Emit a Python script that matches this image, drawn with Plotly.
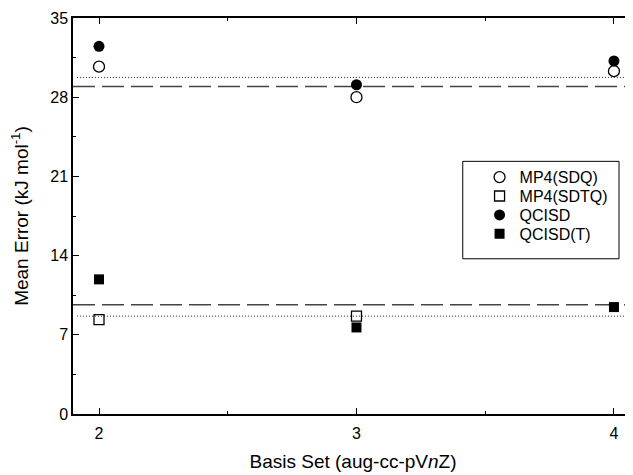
import plotly.graph_objects as go

basis = [2, 3, 4]
mp4_sdq = [30.7, 28.0, 30.3]
mp4_sdtq = [8.35, 8.65, None]
qcisd = [32.5, 29.1, 31.2]
qcisd_t = [11.9, 7.65, 9.45]

# reference levels (horizontal lines)
dashed_levels = [28.95, 9.65]
dotted_levels = [29.75, 8.65]

FONT = "Liberation Sans, Arial, sans-serif"

series = [
    ("MP4(SDQ)", mp4_sdq, dict(symbol="circle-open", size=11, color="black", line=dict(width=1.3))),
    ("MP4(SDTQ)", mp4_sdtq, dict(symbol="square-open", size=10, color="black", line=dict(width=1.3))),
    ("QCISD", qcisd, dict(symbol="circle", size=11, color="black")),
    ("QCISD(T)", qcisd_t, dict(symbol="square", size=10, color="black")),
]
legend_ids = ["legend", "legend2", "legend3", "legend4"]
legend_y = [0.598, 0.5503, 0.5025, 0.4548]

fig = go.Figure()
for (name, vals, mk), lid in zip(series, legend_ids):
    fig.add_trace(go.Scatter(x=basis, y=vals, mode="markers", name=name, marker=mk, legend=lid))

for lv in dashed_levels:
    fig.add_shape(type="line", xref="paper", x0=0, x1=1, yref="y", y0=lv, y1=lv,
                  line=dict(color="#444444", width=1.5, dash="22px,7px"), layer="below")
for lv in dotted_levels:
    fig.add_shape(type="line", xref="paper", x0=0.007, x1=1, yref="y", y0=lv, y1=lv,
                  line=dict(color="#222222", width=1, dash="1px,2px"), layer="below")

# legend frame
fig.add_shape(type="rect", xref="paper", yref="paper", x0=0.696, x1=0.975, y0=0.392, y1=0.638,
              line=dict(color="black", width=1), fillcolor="rgba(0,0,0,0)")

legend_layout = {}
for lid, ly in zip(legend_ids, legend_y):
    legend_layout[lid] = dict(x=0.726, y=ly, xanchor="left", yanchor="middle",
                              borderwidth=0, bgcolor="rgba(0,0,0,0)",
                              font=dict(family=FONT, size=16), itemwidth=30)

fig.update_layout(
    width=633, height=475,
    margin=dict(l=65, r=8, t=8, b=69),
    paper_bgcolor="white", plot_bgcolor="white",
    font=dict(family=FONT, size=16, color="black"),
    showlegend=True,
    **legend_layout,
    xaxis=dict(range=[1.899, 4.074], tickvals=basis, ticktext=[str(b) for b in basis],
               ticks="inside", ticklen=6, tickwidth=1.2, tickcolor="black",
               minor=dict(dtick=0.5, tick0=2, ticks="inside", ticklen=3, tickwidth=1.2, tickcolor="black"),
               showline=True, linecolor="black", linewidth=1.5, mirror="allticks",
               showgrid=False, zeroline=False, ticklabelstandoff=4,
               title=dict(text="Basis Set (aug-cc-pV<i>n</i>Z)", standoff=14,
                          font=dict(family=FONT, size=19))),
    yaxis=dict(range=[0, 35], tickvals=[0, 7, 14, 21, 28, 35],
               ticks="inside", ticklen=6, tickwidth=1.2, tickcolor="black",
               minor=dict(dtick=3.5, tick0=0, ticks="inside", ticklen=3, tickwidth=1.2, tickcolor="black"),
               showline=True, linecolor="black", linewidth=1.5,
               showgrid=False, zeroline=False, automargin=False,
               title=dict(text="Mean Error (kJ mol<sup>-1</sup>)", standoff=24,
                          font=dict(family=FONT, size=19))),
)

fig.write_html("out.html")
